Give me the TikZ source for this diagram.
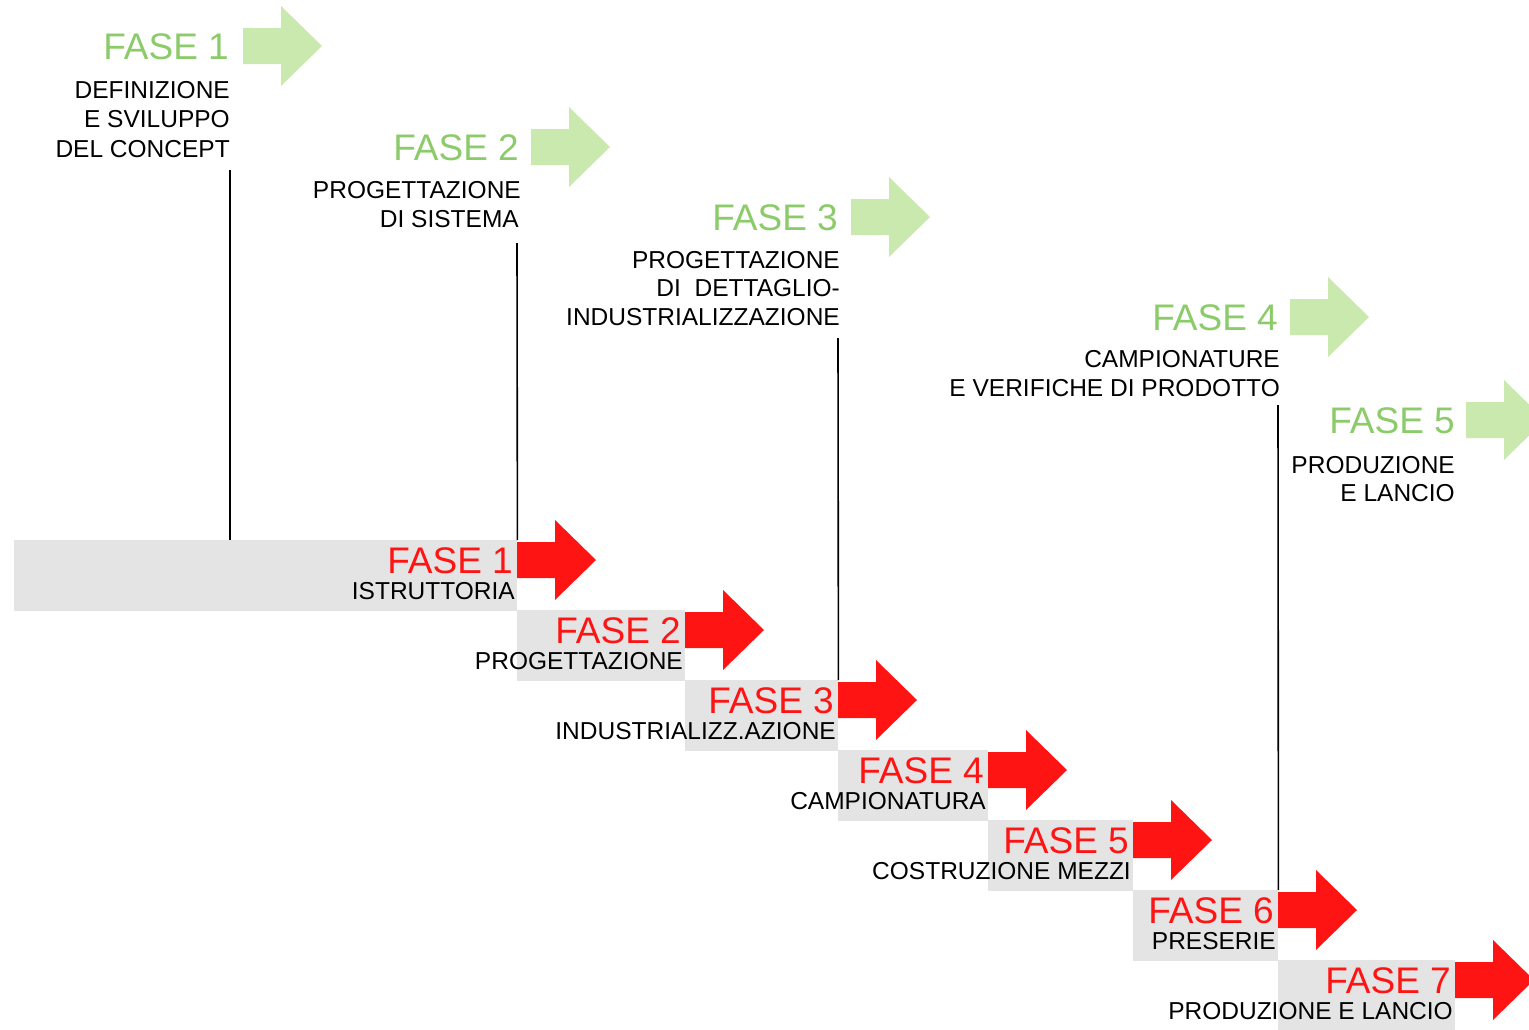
\documentclass[tikz,border=0pt]{standalone}
\usepackage{fontspec}
\setmainfont{Liberation Sans}
\definecolor{fasegreen}{HTML}{8CCB6A}
\definecolor{arrowgreen}{HTML}{CAE9AF}
\definecolor{faseRed}{HTML}{FF1414}
\definecolor{boxgrey}{HTML}{E4E4E4}
\begin{document}
\begin{tikzpicture}[x=1pt,y=-1pt,
  big/.style={inner sep=0pt, anchor=base east, font=\fontsize{37}{40}\selectfont},
  small/.style={inner sep=0pt, anchor=base east, font=\fontsize{24.5}{29}\selectfont, text=black},
  plan/.style={big, text=fasegreen},
  act/.style={big, text=faseRed},
  stepbox/.style={fill=boxgrey, draw=none, inner sep=0pt, anchor=north west},
  link/.style={draw=black, line width=1.6pt},
  fat arrow/.pic={\path[pic actions] (0,-18) -- (38,-18) -- (38,-40) -- (79,0) -- (38,40) -- (38,18) -- (0,18) -- cycle;}]
\useasboundingbox (0,0) rectangle (1529,1029);

% lower staircase: executed phases
\foreach \n/\t/\l/\r/\sub in {1/540/14/517/ISTRUTTORIA,
    2/610/517/685/PROGETTAZIONE,
    3/680/685/838/INDUSTRIALIZZ.AZIONE,
    4/750/838/988/CAMPIONATURA,
    5/820/988/1133/COSTRUZIONE MEZZI,
    6/890/1133/1278/PRESERIE,
    7/960/1278/1455/PRODUZIONE E LANCIO}{
  \pgfmathsetmacro\w{\r-\l}
  \node[stepbox, minimum width=\w pt, minimum height=71pt] (box\n) at (\l,\t) {};
  \pic[fill=faseRed] at (\r,\t+20) {fat arrow};
  \node[act] (red\n) at (\r-4,\t+33) {FASE \n};
  \node[small] (sub\n) at (\r-2,\t+59) {\sub};
}

% upper staircase: planned phases
\pic[fill=arrowgreen] at (243,46) {fat arrow};
\node[plan] (g1) at (229,59) {FASE 1};
\node[small] (g1a) at (230,98) {DEFINIZIONE};
\node[small] (g1b) at (230,127.5) {E SVILUPPO};
\node[small] (g1c) at (230,157) {DEL CONCEPT};

\pic[fill=arrowgreen] at (531,147) {fat arrow};
\node[plan] (g2) at (519,160) {FASE 2};
\node[small] (g2a) at (521,198) {PROGETTAZIONE};
\node[small] (g2b) at (519,227) {DI SISTEMA};

\pic[fill=arrowgreen] at (851,217) {fat arrow};
\node[plan] (g3) at (838,230) {FASE 3};
\node[small] (g3a) at (840,268) {PROGETTAZIONE};
\node[small] (g3b) at (840,296) {DI\ \ DETTAGLIO-};
\node[small] (g3c) at (840,325) {INDUSTRIALIZZAZIONE};

\pic[fill=arrowgreen] at (1290,317) {fat arrow};
\node[plan] (g4) at (1278,330) {FASE 4};
\node[small] (g4a) at (1280,367) {CAMPIONATURE};
\node[small] (g4b) at (1280,396) {E VERIFICHE DI PRODOTTO};

\pic[fill=arrowgreen] at (1466,420) {fat arrow};
\node[plan] (g5) at (1455,433) {FASE 5};
\node[small] (g5a) at (1455,473) {PRODUZIONE};
\node[small] (g5b) at (1455,501) {E LANCIO};

% links between planned and executed phases
\coordinate (t1) at (230,170);
\coordinate (t2) at (517,243);
\coordinate (t3) at (838,338);
\coordinate (t4) at (1278,405);
\draw[link] (t1) -- (t1 |- box1.north);
\draw[link] (t2) -- (box1.north east);
\draw[link] (t3) -- (box3.north east);
\draw[link] (t4) -- (box6.north east);
\end{tikzpicture}
\end{document}
